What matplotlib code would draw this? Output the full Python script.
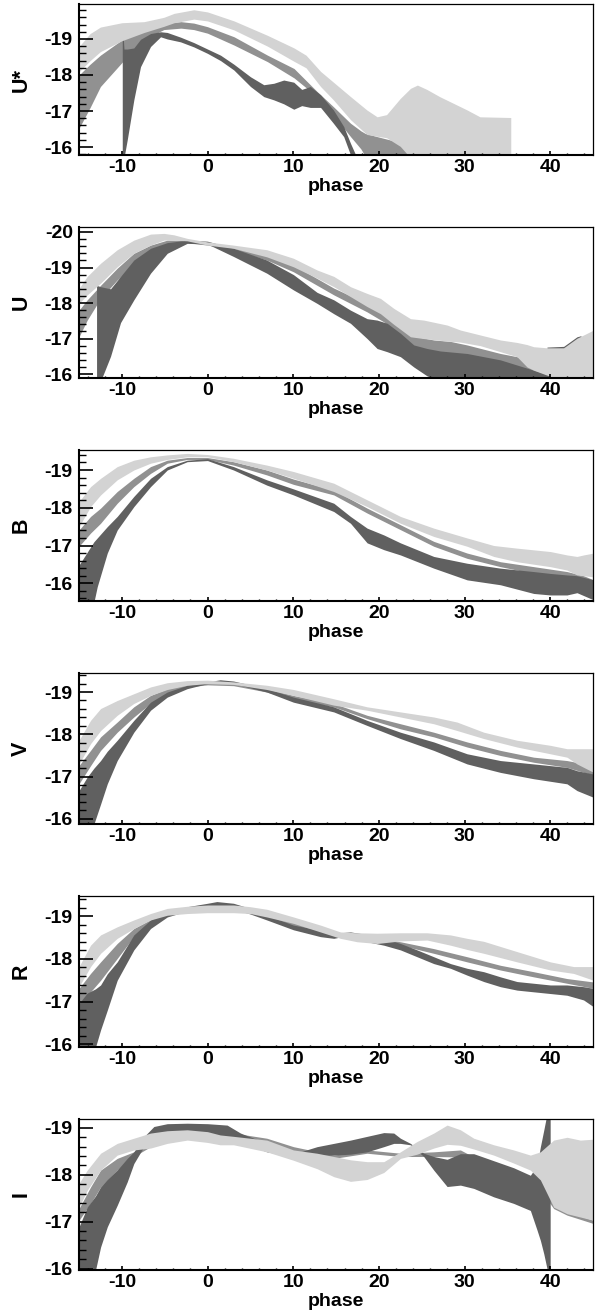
import numpy as np
import matplotlib
matplotlib.use("Agg")
import matplotlib.pyplot as plt
from matplotlib.ticker import MultipleLocator

# band colours: dark, mid, light
DARK = '#606060'
MID = '#919191'
LIGHT = '#d3d3d3'

# ---------------- U* ----------------
ustar_light_ph = [-15, -13.7, -12.5, -10, -7.4, -5.1, -3.9, -1.6, 0, 3.1, 7.0, 10.1, 11.5, 13.2, 14.7, 16.7,
                  18.6, 19.8, 20.9, 22.5, 23.7, 24.5, 25.6, 27.1, 30.3, 31.8, 35.4]
ustar_light_hi = [-18.79, -19.15, -19.33, -19.45, -19.48, -19.60, -19.71, -19.81, -19.75, -19.50, -19.10, -18.75,
                  -18.55, -18.10, -17.80, -17.40, -17.03, -16.84, -16.90, -17.35, -17.63, -17.72, -17.60, -17.40,
                  -17.03, -16.84, -16.82]
ustar_light_lo = [-18.09, -18.40, -18.65, -18.95, -19.18, -19.35, -19.45, -19.55, -19.50, -19.25, -18.80, -18.38,
                  -18.20, -17.68, -17.31, -16.76, -16.35, -16.30, -16.26, -16.02, -15.70, -15.70, -15.70, -15.70,
                  -15.70, -15.70, -15.70]

ustar_mid_ph = [-15, -13.7, -12.5, -9.9, -7.4, -5.1, -3.1, -1.6, 0, 3.1, 7.0, 10.1, 12.8, 14.7, 16.7, 17.9,
                18.4, 19.8, 22.1, 23.7]
ustar_mid_hi = [-18.00, -18.30, -18.55, -18.99, -19.30, -19.44, -19.48, -19.44, -19.34, -19.06, -18.55, -18.18,
                -17.54, -17.12, -16.66, -16.45, -16.38, -16.29, -16.15, -15.82]
ustar_mid_lo = [-16.52, -17.10, -17.68, -18.37, -18.99, -19.26, -19.30, -19.26, -19.16, -18.83, -18.37, -17.92,
                -17.40, -16.89, -16.29, -15.95, -15.75, -15.70, -15.70, -15.70]

ustar_dark_ph = [-9.95, -9.85, -9.75, -9.37, -8.6, -7.82, -6.65, -5.48, -4.7, -3.15, -1.6, 0, 1.52, 3.07, 5.02,
                 6.57, 7.74, 8.9, 10.07, 11.0, 12.0, 13.2, 14.7, 15.9, 16.7, 17.3]
ustar_dark_hi = [-19.15, -19.10, -18.72, -18.72, -18.75, -18.99, -19.15, -19.20, -19.18, -19.05, -18.90, -18.72,
                 -18.55, -18.30, -17.95, -17.73, -17.77, -17.86, -17.80, -17.60, -17.68, -17.45, -17.03, -16.57,
                 -16.10, -15.78]
ustar_dark_lo = [-15.70, -15.70, -15.70, -16.20, -17.31, -18.23, -18.79, -19.06, -19.00, -18.92, -18.78, -18.60,
                 -18.40, -18.14, -17.68, -17.40, -17.31, -17.20, -17.05, -17.15, -17.10, -17.10, -16.66, -16.29,
                 -15.78, -15.70]

# ---------------- U ----------------
u_light_ph = [-15, -14.04, -12.48, -10.54, -8.6, -6.65, -5.09, -3.93, -2.37, 0, 3.04, 6.92, 10.03, 12.79, 14.74,
              16.69, 18.63, 20.19, 21.74, 23.69, 25.24, 27.97, 29.52, 31.85, 34.19, 36.13, 37.3, 38.07, 39.63,
              41.57, 43.13, 43.9, 45.07]
u_light_hi = [-18.41, -18.75, -19.12, -19.50, -19.77, -19.94, -19.96, -19.92, -19.82, -19.72, -19.63, -19.50,
              -19.26, -18.93, -18.75, -18.46, -18.27, -18.13, -17.85, -17.56, -17.52, -17.38, -17.24, -17.10,
              -16.96, -16.89, -16.83, -16.77, -16.74, -16.74, -17.01, -17.10, -17.24]
u_light_lo = [-17.99, -18.23, -18.56, -19.02, -19.40, -19.63, -19.77, -19.77, -19.75, -19.63, -19.54, -19.30,
              -19.02, -18.70, -18.46, -18.18, -17.90, -17.70, -17.40, -17.05, -17.00, -16.93, -16.90, -16.80,
              -16.63, -16.49, -16.20, -16.11, -15.97, -15.80, -15.80, -15.80, -15.80]

u_mid_ph = [-15, -14.04, -12.48, -10.54, -8.6, -6.65, -4.70, -2.37, 0, 3.04, 6.92, 10.03, 14.74, 18.63, 20.58,
            22.52, 24.46, 26.41, 28.36, 30.3, 34.19, 36.13, 38.07, 39.63, 41.18]
u_mid_hi = [-17.80, -18.09, -18.50, -18.98, -19.40, -19.63, -19.77, -19.77, -19.68, -19.59, -19.40, -19.07,
            -18.42, -17.99, -17.75, -17.29, -17.05, -16.96, -16.92, -16.82, -16.58, -16.49, -16.20, -16.02, -15.88]
u_mid_lo = [-17.05, -17.52, -18.13, -18.65, -19.07, -19.40, -19.63, -19.70, -19.63, -19.50, -19.21, -18.88,
            -18.23, -17.75, -17.47, -17.10, -16.72, -16.63, -16.58, -16.49, -16.30, -16.20, -16.02, -15.85, -15.80]

u_dark_ph = [-12.95, -12.48, -11.32, -10.15, -8.6, -6.65, -4.70, -2.37, 0, 3.04, 6.92, 10.03, 12.79, 14.74, 16.69,
             18.63, 19.8, 20.97, 22.52, 24.08, 25.63, 27.19, 30.3, 34.19, 38.07, 41.18]
u_dark_hi = [-18.50, -18.46, -18.40, -18.75, -19.21, -19.54, -19.70, -19.77, -19.74, -19.54, -19.21, -18.80,
             -18.30, -18.09, -17.80, -17.56, -17.52, -17.43, -17.15, -16.82, -16.72, -16.65, -16.58, -16.40,
             -16.11, -15.88]
u_dark_lo = [-15.80, -15.80, -16.50, -17.45, -18.09, -18.84, -19.40, -19.68, -19.66, -19.31, -18.84, -18.37,
             -17.99, -17.70, -17.43, -17.00, -16.72, -16.63, -16.49, -16.20, -15.95, -15.80, -15.80, -15.80,
             -15.80, -15.80]
# small late piece of the dark band
u_dark2_ph = [39.63, 41.57, 43.13, 43.6]
u_dark2_hi = [-16.76, -16.78, -17.05, -17.08]
u_dark2_lo = [-15.80, -15.80, -15.80, -15.80]

# ---------------- B ----------------
b_light_ph = [-15, -13.65, -12.48, -10.54, -8.6, -6.65, -4.70, -2.37, 0, 3.04, 6.92, 10.03, 14.74, 18.63, 20.58,
              22.52, 26.41, 30.3, 33.41, 36.13, 40.02, 41.96, 43.13, 43.9, 45.07]
b_light_hi = [-18.16, -18.56, -18.78, -19.09, -19.26, -19.35, -19.40, -19.44, -19.41, -19.31, -19.13, -18.96,
              -18.65, -18.21, -17.99, -17.77, -17.46, -17.20, -17.00, -16.93, -16.84, -16.75, -16.71, -16.75, -16.80]
b_light_lo = [-17.50, -18.03, -18.34, -18.74, -19.00, -19.18, -19.28, -19.35, -19.35, -19.22, -19.00, -18.78,
              -18.43, -18.03, -17.81, -17.59, -17.24, -16.98, -16.71, -16.57, -16.44, -16.35, -16.22, -16.20, -16.17]

b_mid_ph = [-15, -13.65, -12.48, -10.54, -8.6, -6.65, -4.70, -2.37, 0, 3.04, 6.92, 10.03, 14.74, 18.63, 22.52,
            26.41, 30.3, 34.19, 38.07, 41.96, 43.9, 45.07]
b_mid_hi = [-17.41, -17.77, -17.99, -18.43, -18.78, -19.09, -19.26, -19.33, -19.33, -19.22, -19.00, -18.76,
            -18.47, -17.99, -17.55, -17.11, -16.80, -16.57, -16.44, -16.31, -16.20, -16.09]
b_mid_lo = [-16.98, -17.33, -17.59, -18.12, -18.56, -18.91, -19.18, -19.28, -19.28, -19.13, -18.87, -18.62,
            -18.34, -17.86, -17.42, -16.98, -16.66, -16.44, -16.26, -16.17, -16.08, -16.00]

b_dark_ph = [-15, -13.26, -12.87, -11.70, -10.54, -8.6, -6.65, -4.70, -2.37, 0, 3.04, 6.92, 10.03, 14.74, 16.69,
             18.63, 20.58, 22.52, 26.41, 30.3, 34.19, 38.07, 40.02, 41.96, 43.13, 45.07]
b_dark_hi = [-16.48, -17.10, -17.20, -17.50, -17.77, -18.30, -18.78, -19.09, -19.26, -19.30, -19.09, -18.74,
             -18.50, -18.12, -17.77, -17.46, -17.28, -17.07, -16.71, -16.53, -16.40, -16.31, -16.26, -16.22,
             -16.20, -16.09]
b_dark_lo = [-15.50, -15.50, -15.91, -16.80, -17.41, -18.03, -18.56, -19.00, -19.22, -19.25, -19.00, -18.60,
             -18.34, -17.90, -17.59, -17.07, -16.89, -16.75, -16.40, -16.09, -15.96, -15.73, -15.69, -15.69,
             -15.75, -15.56]

# ---------------- V ----------------
v_light_ph = [-15, -13.65, -12.48, -10.54, -8.6, -6.65, -4.70, -2.37, 0, 3.04, 6.92, 10.03, 14.74, 18.63, 22.52,
              26.41, 29.13, 32.25, 36.13, 40.02, 41.96, 43.13, 45.07]
v_light_hi = [-17.86, -18.33, -18.61, -18.80, -18.96, -19.12, -19.22, -19.27, -19.28, -19.24, -19.16, -19.06,
              -18.84, -18.65, -18.53, -18.41, -18.29, -18.05, -17.86, -17.74, -17.66, -17.66, -17.66]
v_light_lo = [-17.30, -17.78, -18.09, -18.45, -18.73, -18.92, -19.06, -19.16, -19.20, -19.18, -19.06, -18.92,
              -18.69, -18.57, -18.41, -18.25, -18.09, -17.90, -17.70, -17.54, -17.46, -17.30, -17.10]

v_mid_ph = [-15, -13.65, -12.48, -10.54, -8.6, -6.65, -4.70, -2.37, 0, 3.04, 6.92, 10.03, 14.74, 18.63, 22.52,
            26.41, 30.3, 34.19, 38.07, 41.96, 45.07]
v_mid_hi = [-17.26, -17.62, -17.94, -18.29, -18.65, -18.92, -19.08, -19.18, -19.20, -19.20, -19.08, -18.92,
            -18.73, -18.45, -18.25, -18.05, -17.82, -17.62, -17.46, -17.38, -17.26]
v_mid_lo = [-16.83, -17.26, -17.62, -18.05, -18.41, -18.73, -18.96, -19.12, -19.17, -19.15, -19.00, -18.82,
            -18.65, -18.37, -18.13, -17.94, -17.70, -17.50, -17.34, -17.22, -17.03]

v_dark_ph = [-15, -14.04, -13.26, -12.48, -11.70, -10.54, -8.6, -6.65, -4.70, -2.37, 0, 1.48, 3.04, 6.92, 10.03,
             14.74, 18.63, 22.52, 26.41, 30.3, 34.19, 38.07, 41.96, 43.13, 45.07]
v_dark_hi = [-16.67, -16.99, -17.20, -17.38, -17.60, -17.86, -18.33, -18.76, -19.00, -19.16, -19.24, -19.29,
             -19.26, -19.08, -18.88, -18.65, -18.33, -18.05, -17.82, -17.54, -17.38, -17.30, -17.22, -17.14, -17.06]
v_dark_lo = [-15.80, -15.80, -15.88, -16.35, -16.83, -17.38, -18.05, -18.57, -18.88, -19.08, -19.20, -19.22,
             -19.20, -19.00, -18.76, -18.53, -18.21, -17.90, -17.62, -17.30, -17.10, -16.95, -16.83, -16.67, -16.51]

# ---------------- R ----------------
r_light_ph = [-15, -13.65, -12.48, -10.54, -8.6, -6.65, -4.70, -2.37, 0, 3.04, 4.98, 6.92, 10.03, 13.18, 15.51,
              17.47, 19.8, 22.52, 25.63, 28.36, 30.3, 32.25, 36.13, 40.02, 42.74, 45.07]
r_light_hi = [-17.82, -18.32, -18.56, -18.75, -18.91, -19.06, -19.18, -19.23, -19.26, -19.26, -19.22, -19.16,
              -18.98, -18.79, -18.63, -18.61, -18.60, -18.61, -18.61, -18.56, -18.48, -18.41, -18.17, -17.93,
              -17.82, -17.82]
r_light_lo = [-17.35, -17.82, -18.13, -18.48, -18.71, -18.91, -19.02, -19.06, -19.08, -19.08, -19.06, -18.98,
              -18.83, -18.63, -18.48, -18.40, -18.36, -18.42, -18.44, -18.32, -18.22, -18.13, -17.93, -17.74,
              -17.66, -17.50]

r_mid_ph = [-15, -13.65, -12.48, -10.54, -8.6, -6.65, -4.70, -2.37, 0, 3.04, 6.92, 10.03, 14.74, 18.63, 22.52,
            26.41, 30.3, 34.19, 38.07, 41.96, 45.07]
r_mid_hi = [-17.31, -17.66, -17.93, -18.36, -18.71, -18.92, -19.06, -19.18, -19.22, -19.20, -19.06, -18.87,
            -18.64, -18.52, -18.40, -18.24, -18.05, -17.85, -17.70, -17.54, -17.46]
r_mid_lo = [-16.96, -17.23, -17.50, -18.01, -18.52, -18.83, -19.00, -19.14, -19.18, -19.16, -18.98, -18.75,
            -18.56, -18.44, -18.32, -18.13, -17.93, -17.74, -17.58, -17.43, -17.31]

r_dark_ph = [-15, -14.04, -13.07, -12.48, -11.70, -10.54, -8.6, -6.65, -4.70, -2.37, 0, 1.09, 3.04, 4.98, 6.92,
             10.03, 13.18, 14.74, 16.69, 18.63, 20.58, 22.52, 24.46, 26.41, 28.36, 30.3, 32.25, 34.19, 36.13,
             38.07, 40.02, 41.96, 43.9, 45.07]
r_dark_hi = [-16.96, -17.20, -17.30, -17.39, -17.65, -17.93, -18.56, -18.91, -19.10, -19.22, -19.30, -19.34,
             -19.30, -19.18, -19.02, -18.79, -18.67, -18.60, -18.63, -18.57, -18.48, -18.36, -18.21, -18.05,
             -17.89, -17.78, -17.70, -17.58, -17.47, -17.43, -17.39, -17.39, -17.35, -17.31]
r_dark_lo = [-15.90, -15.90, -15.94, -16.34, -16.80, -17.50, -18.21, -18.71, -18.98, -19.12, -19.18, -19.18,
             -19.16, -19.05, -18.91, -18.68, -18.52, -18.48, -18.56, -18.40, -18.32, -18.21, -18.05, -17.89,
             -17.78, -17.62, -17.47, -17.35, -17.27, -17.23, -17.19, -17.15, -17.04, -16.88]

# ---------------- I ----------------
i_light_ph = [-15, -14.04, -12.48, -10.54, -8.6, -6.65, -4.70, -2.37, 0, 1.48, 3.04, 6.92, 10.03, 12.79, 14.74,
              16.69, 18.63, 20.58, 22.52, 24.46, 26.41, 27.97, 29.52, 31.08, 33.41, 35.74, 37.69, 38.86, 40.41,
              41.97, 43.52, 45.07]
i_light_hi = [-17.82, -18.10, -18.46, -18.67, -18.78, -18.89, -18.94, -18.96, -18.92, -18.85, -18.82, -18.74,
              -18.53, -18.46, -18.39, -18.32, -18.28, -18.28, -18.49, -18.71, -18.89, -19.06, -18.96, -18.78,
              -18.64, -18.53, -18.42, -18.49, -18.74, -18.80, -18.74, -18.76]
i_light_lo = [-17.31, -17.67, -18.10, -18.42, -18.53, -18.57, -18.67, -18.74, -18.69, -18.64, -18.64, -18.49,
              -18.31, -18.13, -17.96, -17.86, -17.90, -18.05, -18.35, -18.44, -18.57, -18.65, -18.63, -18.55,
              -18.42, -18.25, -18.10, -17.89, -17.31, -17.17, -17.10, -17.03]

i_mid_ph = [-15, -13.65, -12.48, -10.54, -8.6, -6.65, -4.70, -2.37, 0, 3.04, 6.92, 10.03, 14.74, 18.63, 22.52,
            26.41, 29.52, 31.08, 34.19, 37.3, 38.86, 40.41, 41.97, 45.07]
i_mid_hi = [-17.28, -17.74, -18.10, -18.35, -18.49, -18.71, -18.89, -18.96, -18.97, -18.89, -18.78, -18.60,
            -18.42, -18.53, -18.46, -18.49, -18.53, -18.38, -18.20, -17.98, -17.82, -17.39, -17.21, -17.03]
i_mid_lo = [-17.03, -17.39, -17.74, -18.10, -18.39, -18.60, -18.75, -18.82, -18.82, -18.75, -18.60, -18.45,
            -18.35, -18.46, -18.39, -18.39, -18.38, -18.22, -18.05, -17.85, -17.67, -17.28, -17.14, -16.96]

i_dark_ph = [-15, -14.04, -13.07, -12.48, -11.70, -10.54, -9.37, -8.6, -7.43, -6.26, -4.70, -2.37, 0, 2.29, 3.85,
             6.92, 10.03, 10.85, 12.79, 14.74, 16.69, 18.63, 20.58, 21.74, 22.52, 23.69, 25.24, 26.41, 27.97,
             29.52, 31.08, 33.41, 35.74, 37.69, 38.47, 38.86, 39.25, 39.63, 40.0]
i_dark_hi = [-16.89, -17.31, -17.55, -17.74, -17.90, -18.10, -18.35, -18.49, -18.81, -19.03, -19.09, -19.10,
             -19.09, -19.06, -18.89, -18.67, -18.49, -18.49, -18.60, -18.67, -18.74, -18.82, -18.90, -18.89,
             -18.78, -18.67, -18.46, -18.39, -18.33, -18.45, -18.45, -18.30, -18.15, -17.99, -18.20, -18.60,
             -18.95, -19.30, -19.30]
i_dark_lo = [-15.90, -15.90, -15.97, -16.46, -16.89, -17.35, -17.85, -18.24, -18.60, -18.78, -18.89, -18.92,
             -18.89, -18.78, -18.70, -18.49, -18.39, -18.39, -18.42, -18.42, -18.44, -18.49, -18.60, -18.67,
             -18.67, -18.64, -18.39, -18.10, -17.75, -17.78, -17.71, -17.53, -17.39, -17.24, -16.82, -16.60,
             -16.32, -16.00, -15.90]

panels = [
    ('U*', (-15.78, -19.97),
     [(ustar_mid_ph, ustar_mid_hi, ustar_mid_lo, MID),
      (ustar_dark_ph, ustar_dark_hi, ustar_dark_lo, DARK),
      (ustar_light_ph, ustar_light_hi, ustar_light_lo, LIGHT)]),
    ('U', (-15.89, -20.14),
     [(u_mid_ph, u_mid_hi, u_mid_lo, MID),
      (u_dark_ph, u_dark_hi, u_dark_lo, DARK),
      (u_dark2_ph, u_dark2_hi, u_dark2_lo, DARK),
      (u_light_ph, u_light_hi, u_light_lo, LIGHT)]),
    ('B', (-15.53, -19.53),
     [(b_mid_ph, b_mid_hi, b_mid_lo, MID),
      (b_dark_ph, b_dark_hi, b_dark_lo, DARK),
      (b_light_ph, b_light_hi, b_light_lo, LIGHT)]),
    ('V', (-15.88, -19.45),
     [(v_mid_ph, v_mid_hi, v_mid_lo, MID),
      (v_dark_ph, v_dark_hi, v_dark_lo, DARK),
      (v_light_ph, v_light_hi, v_light_lo, LIGHT)]),
    ('R', (-15.94, -19.47),
     [(r_mid_ph, r_mid_hi, r_mid_lo, MID),
      (r_dark_ph, r_dark_hi, r_dark_lo, DARK),
      (r_light_ph, r_light_hi, r_light_lo, LIGHT)]),
    ('I', (-15.97, -19.19),
     [(i_mid_ph, i_mid_hi, i_mid_lo, MID),
      (i_dark_ph, i_dark_hi, i_dark_lo, DARK),
      (i_light_ph, i_light_hi, i_light_lo, LIGHT)]),
]

plt.rcParams['font.family'] = ['Liberation Sans', 'DejaVu Sans']
plt.rcParams['font.weight'] = 'bold'
plt.rcParams['axes.unicode_minus'] = False

W, H = 598, 1311
fig = plt.figure(figsize=(W / 100, H / 100), dpi=100)

top_px = [4, 227, 450, 673, 896, 1119]
ax_h = 151

for (name, ylim, bands), top in zip(panels, top_px):
    ax = fig.add_axes([79 / W, (H - top - ax_h) / H, 514 / W, ax_h / H])
    for ph, hi, lo, col in bands:
        ax.fill_between(ph, hi, lo, color=col, linewidth=0)
    ax.set_xlim(-15, 45)
    ax.set_ylim(*ylim)

    ax.xaxis.set_major_locator(MultipleLocator(10))
    ax.xaxis.set_minor_locator(MultipleLocator(2))
    ax.yaxis.set_major_locator(MultipleLocator(1))
    ax.yaxis.set_minor_locator(MultipleLocator(0.2))
    ax.tick_params(axis='y', which='major', direction='in', length=10, width=1.2,
                   labelsize=14, pad=4.5, right=False)
    ax.tick_params(axis='y', which='minor', direction='in', length=5, width=1, right=False)
    ax.tick_params(axis='x', which='major', direction='in', length=3, width=1.2,
                   labelsize=14, pad=3, top=False)
    ax.tick_params(axis='x', which='minor', direction='in', length=1.5, width=1, top=False)

    for s in ['left', 'bottom']:
        ax.spines[s].set_linewidth(1.5)
    for s in ['top', 'right']:
        ax.spines[s].set_linewidth(0.9)

    ax.set_xlabel('phase', fontsize=14, fontweight='bold', labelpad=1)
    ax.set_ylabel(name, fontsize=15.5, fontweight='bold')
    ax.yaxis.set_label_coords(-0.092, 0.5)

fig.savefig('out.png', dpi=100)
